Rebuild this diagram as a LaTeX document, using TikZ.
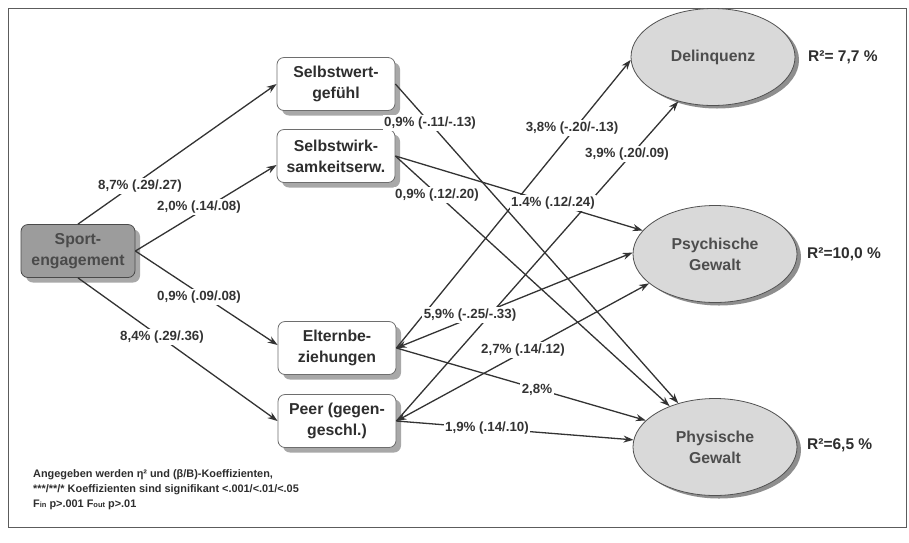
\documentclass[tikz,border=0pt]{standalone}
\usepackage{fontspec}
\setmainfont{Liberation Sans}
\usetikzlibrary{shapes.geometric,shadows,arrows.meta}
\definecolor{ln}{HTML}{333333}
\definecolor{txt}{HTML}{2E2E2E}
\definecolor{boxborder}{HTML}{6E6E6E}
\definecolor{shadowgray}{HTML}{A8A8A8}
\definecolor{sportfill}{HTML}{9C9C9C}
\definecolor{sporttxt}{HTML}{4A4A4A}
\definecolor{ellfill}{HTML}{D9D9D9}
\definecolor{ellshadow}{HTML}{8E8E8E}
\begin{document}
\begin{tikzpicture}[x=1pt,y=-1pt,
  box/.style={draw=boxborder, fill=white, rounded corners=7pt, line width=0.8pt,
    minimum width=118pt, minimum height=53pt, align=center, inner sep=2pt,
    font=\fontsize{15.8}{21}\selectfont\bfseries, text=txt,
    drop shadow={shadow xshift=5pt, shadow yshift=-5pt, fill=shadowgray, opacity=1}},
  sportbox/.style={box, fill=sportfill, draw=sporttxt, text=sporttxt, minimum width=114pt},
  outcome/.style={ellipse, draw=ln!85, fill=ellfill, line width=0.8pt,
    minimum width=164pt, minimum height=97pt, align=center, inner sep=0pt,
    font=\fontsize{15.8}{21}\selectfont\bfseries, text=txt!85,
    drop shadow={shadow xshift=4pt, shadow yshift=-3pt, fill=ellshadow, opacity=1}},
  rsq/.style={anchor=west, font=\fontsize{15.5}{18}\selectfont\bfseries, text=txt, inner sep=0pt},
  conn/.style={draw=ln, line width=1.3pt, -{Stealth[length=10pt,width=7pt]}},
  bothconn/.style={draw=ln, line width=1.3pt, {Stealth[length=10pt,width=7pt]}-{Stealth[length=10pt,width=7pt]}},
  lbl/.style={fill=white, inner sep=1.5pt, font=\fontsize{13.3}{15}\selectfont\bfseries, text=ln},
  legend/.style={anchor=base west, inner sep=0pt, font=\fontsize{10.9}{13}\selectfont\bfseries, text=txt},
  frame/.style={draw=ln!80, line width=1pt}
]
\useasboundingbox (0,0) rectangle (909,542);
\fill[white] (0,0) rectangle (909,542);
\draw[frame] (8,8) rectangle (906,527);

% nodes
\node[sportbox] (sport) at (78,251) {Sport-\\engagement};
\node[box] (swg) at (336,84) {Selbstwert-\\gefühl};
\node[box] (swk) at (336,156) {Selbstwirk-\\samkeitserw.};
\node[box] (elt) at (337,348) {Elternbe-\\ziehungen};
\node[box] (peer) at (337,421) {Peer (gegen-\\geschl.)};

\node[outcome] (del) at (713,57) {Delinquenz};
\node[outcome] (psy) at (715,254) {Psychische\\Gewalt};
\node[outcome] (phy) at (715,447) {Physische\\Gewalt};

\node[rsq] (r1) at (808,57) {R²= 7,7 \%};
\node[rsq] (r2) at (807,254) {R²=10,0 \%};
\node[rsq] (r3) at (807,445) {R²=6,5 \%};

% connectors
\draw[conn] (sport.north) -- (swg.west);
\draw[conn] (sport.east) -- ([yshift=-9pt]swk.west);
\draw[conn] (sport.east) -- ([yshift=3pt]elt.west);
\draw[conn] (sport.south) -- (peer.west);

\draw[conn] (swg.east) -- (phy.130);
\draw[conn] (swk.east) -- (phy.138);
\draw[conn] (swk.east) -- (psy.162);
\draw[conn] (elt.east) -- (del.182);
\draw[bothconn] (elt.east) -- (psy.179);
\draw[conn] (elt.east) -- (phy.159);
\draw[conn] (peer.east) -- (del.232);
\draw[bothconn] (peer.east) -- (psy.204);
\draw[conn] (peer.east) -- (phy.175);

% labels
\node[lbl] (a1) at (140,186) {8,7\% (.29/.27)};
\node[lbl] (a2) at (199,207) {2,0\% (.14/.08)};
\node[lbl] (a3) at (199,297) {0,9\% (.09/.08)};
\node[lbl] (a4) at (162,337) {8,4\% (.29/.36)};
\node[lbl] (b1) at (430,123) {0,9\% (-.11/-.13)};
\node[lbl] (b2) at (437,195) {0,9\% (.12/.20)};
\node[lbl] (b3) at (572,128) {3,8\% (-.20/-.13)};
\node[lbl] (b4) at (627,154) {3,9\% (.20/.09)};
\node[lbl] (b5) at (553,203) {1.4\% (.12/.24)};
\node[lbl] (b6) at (470,315) {5,9\% (-.25/-.33)};
\node[lbl] (b7) at (523,350) {2,7\% (.14/.12)};
\node[lbl] (b8) at (537,390) {2,8\%};
\node[lbl] (b9) at (487,428) {1,9\% (.14/.10)};

% legend
\node[legend] (g1) at (33,477) {Angegeben werden η² und (β/B)-Koeffizienten,};
\node[legend] (g2) at (33,492) {***/**/* Koeffizienten sind signifikant <.001/<.01/<.05};
\node[legend] (g3) at (33,507) {F{\fontsize{7.5}{7.5}\selectfont in} p>.001 F{\fontsize{7.5}{7.5}\selectfont out} p>.01};
\end{tikzpicture}
\end{document}
